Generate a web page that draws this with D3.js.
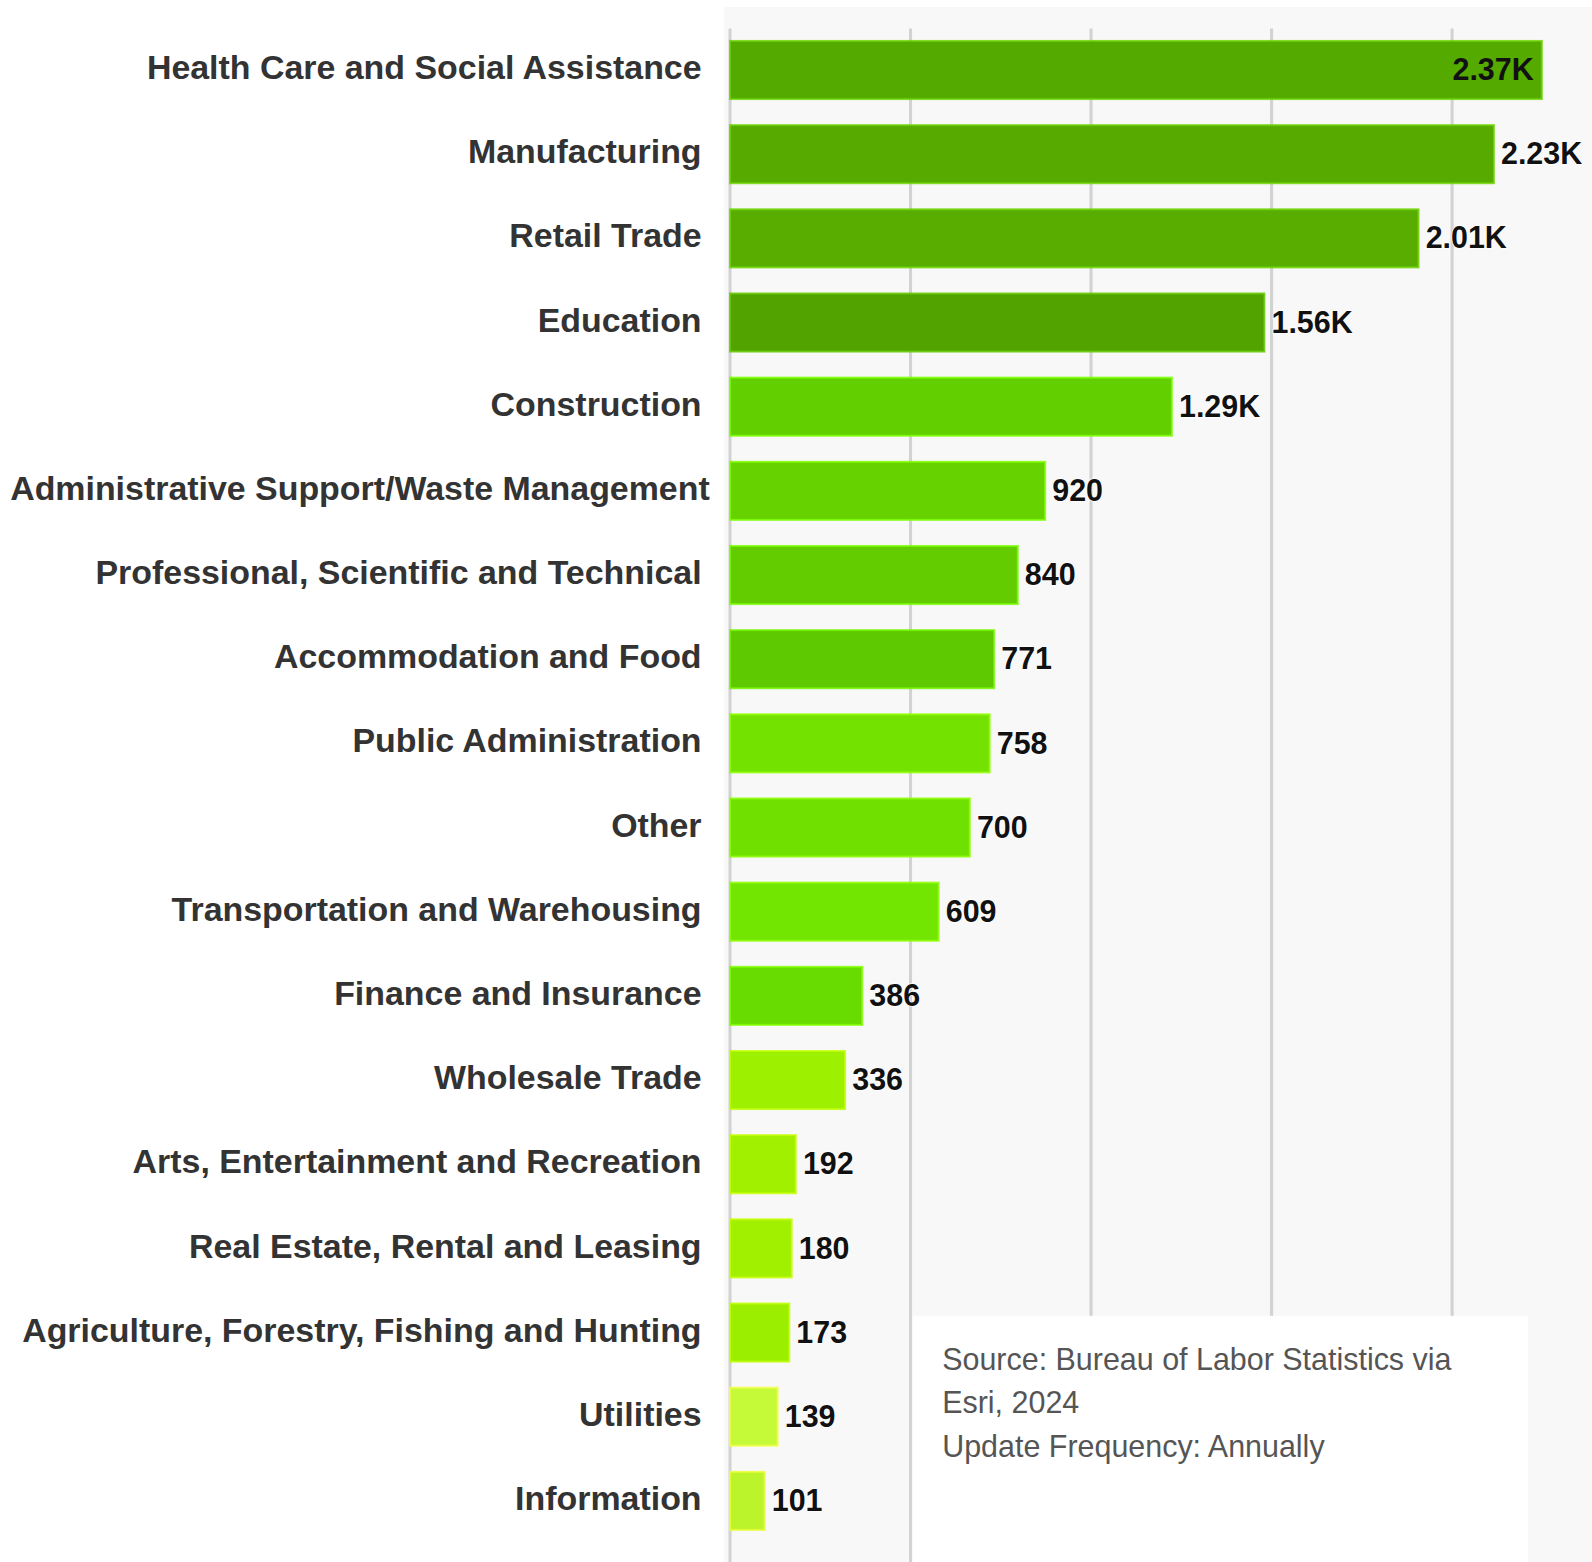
<!DOCTYPE html>
<html>
<head>
<meta charset="utf-8">
<script src="https://cdn.jsdelivr.net/npm/d3@7"></script>
<style>
    body { margin: 0; background: #fff; }
    svg { display: block; font-family: "Liberation Sans", Arial, sans-serif; }
</style>
</head>
<body>
<svg id="chart" width="1592" height="1562"></svg>
<script>
// Industry employment
const industries = [
    'Health Care and Social Assistance', 'Manufacturing', 'Retail Trade', 'Education',
    'Construction', 'Administrative Support/Waste Management',
    'Professional, Scientific and Technical', 'Accommodation and Food',
    'Public Administration', 'Other', 'Transportation and Warehousing',
    'Finance and Insurance', 'Wholesale Trade', 'Arts, Entertainment and Recreation',
    'Real Estate, Rental and Leasing', 'Agriculture, Forestry, Fishing and Hunting',
    'Utilities', 'Information'
];
const employees = [2370, 2230, 2010, 1560, 1290, 920, 840, 771, 758, 700, 609, 386, 336, 192, 180, 173, 139, 101];
const valueLabels = ['2.37K', '2.23K', '2.01K', '1.56K', '1.29K', '920', '840', '771', '758', '700', '609', '386', '336', '192', '180', '173', '139', '101'];
const barColors = [
    '#55aa00', '#56aa00', '#58ad00', '#52a300', '#62d000', '#66d200',
    '#62cc00', '#5ec800', '#74e200', '#70e000', '#72e600', '#68dc00',
    '#9cf000', '#a0f000', '#a0f000', '#9cee00', '#c4fa38', '#bcf42c'
];
const sourceLines = ['Source: Bureau of Labor Statistics via', 'Esri, 2024', 'Update Frequency: Annually'];

const xMax = 2635;
const gridCount = 5;

// layout is worked out on a 1568 wide canvas and scaled up to the page
const k = 1592 / 1568;
const W = 1568, H = 1562 / k;

const svg = d3.select('#chart');
const g = svg.append('g').attr('transform', `scale(${k})`);

const x = d3.scaleLinear().domain([0, xMax]).range([719, 1608]);
const y = d3.scaleBand()
    .domain(industries)
    .range([27.5, 1519.7])
    .paddingInner(0.31)
    .paddingOuter(0.155);

// panel background
g.append('rect')
    .attr('x', 713).attr('y', 7)
    .attr('width', W - 713).attr('height', H - 7)
    .attr('fill', '#f8f8f8');

// gridlines (first one is the zero line)
const gridValues = d3.range(0, gridCount).map(i => xMax * i / gridCount);
g.append('g')
    .selectAll('line')
    .data(gridValues)
    .join('line')
    .attr('x1', d => x(d)).attr('x2', d => x(d))
    .attr('y1', 28).attr('y2', H)
    .attr('stroke', '#d2d2d2')
    .attr('stroke-width', 3);

// bars
g.append('g')
    .selectAll('rect')
    .data(employees)
    .join('rect')
    .attr('x', x(0))
    .attr('y', (d, i) => y(industries[i]))
    .attr('width', d => x(d) - x(0))
    .attr('height', y.bandwidth())
    .attr('fill', (d, i) => barColors[i])
    .attr('stroke', (d, i) => d3.color(barColors[i]).brighter(0.6))
    .attr('stroke-opacity', 0.8)
    .attr('stroke-width', 2);

// category labels, right aligned, pushed right if they would run off the left edge
const labels = g.append('g')
    .selectAll('text')
    .data(industries)
    .join('text')
    .attr('x', 691)
    .attr('y', d => y(d) + y.bandwidth() / 2 + 9)
    .attr('text-anchor', 'end')
    .attr('font-size', 33.4)
    .attr('font-weight', 'bold')
    .attr('fill', '#333')
    .text(d => d);
labels.each(function () {
    const w = this.getComputedTextLength();
    if (691 - w < 10) d3.select(this).attr('x', 10 + w);
});

// value labels: inside the bar when there is no room on the right
const inside = d => x(d) + 90 > W;
g.append('g')
    .selectAll('text')
    .data(employees)
    .join('text')
    .attr('x', d => inside(d) ? x(d) - 8 : x(d) + 7)
    .attr('text-anchor', d => inside(d) ? 'end' : 'start')
    .attr('y', (d, i) => y(industries[i]) + y.bandwidth() / 2 + 10)
    .attr('font-size', 30)
    .attr('font-weight', 'bold')
    .attr('fill', '#111')
    .attr('stroke', d => inside(d) ? 'none' : '#fff')
    .attr('stroke-width', 1.5)
    .attr('paint-order', 'stroke')
    .text((d, i) => valueLabels[i]);

// source note box
g.append('rect')
    .attr('x', 899).attr('y', 1296)
    .attr('width', 606).attr('height', H - 1296)
    .attr('fill', '#fff');

g.append('g')
    .selectAll('text')
    .data(sourceLines)
    .join('text')
    .attr('x', 928)
    .attr('y', (d, i) => 1349 + i * 43)
    .attr('font-size', 30)
    .attr('fill', '#555')
    .text(d => d);
</script>
</body>
</html>
